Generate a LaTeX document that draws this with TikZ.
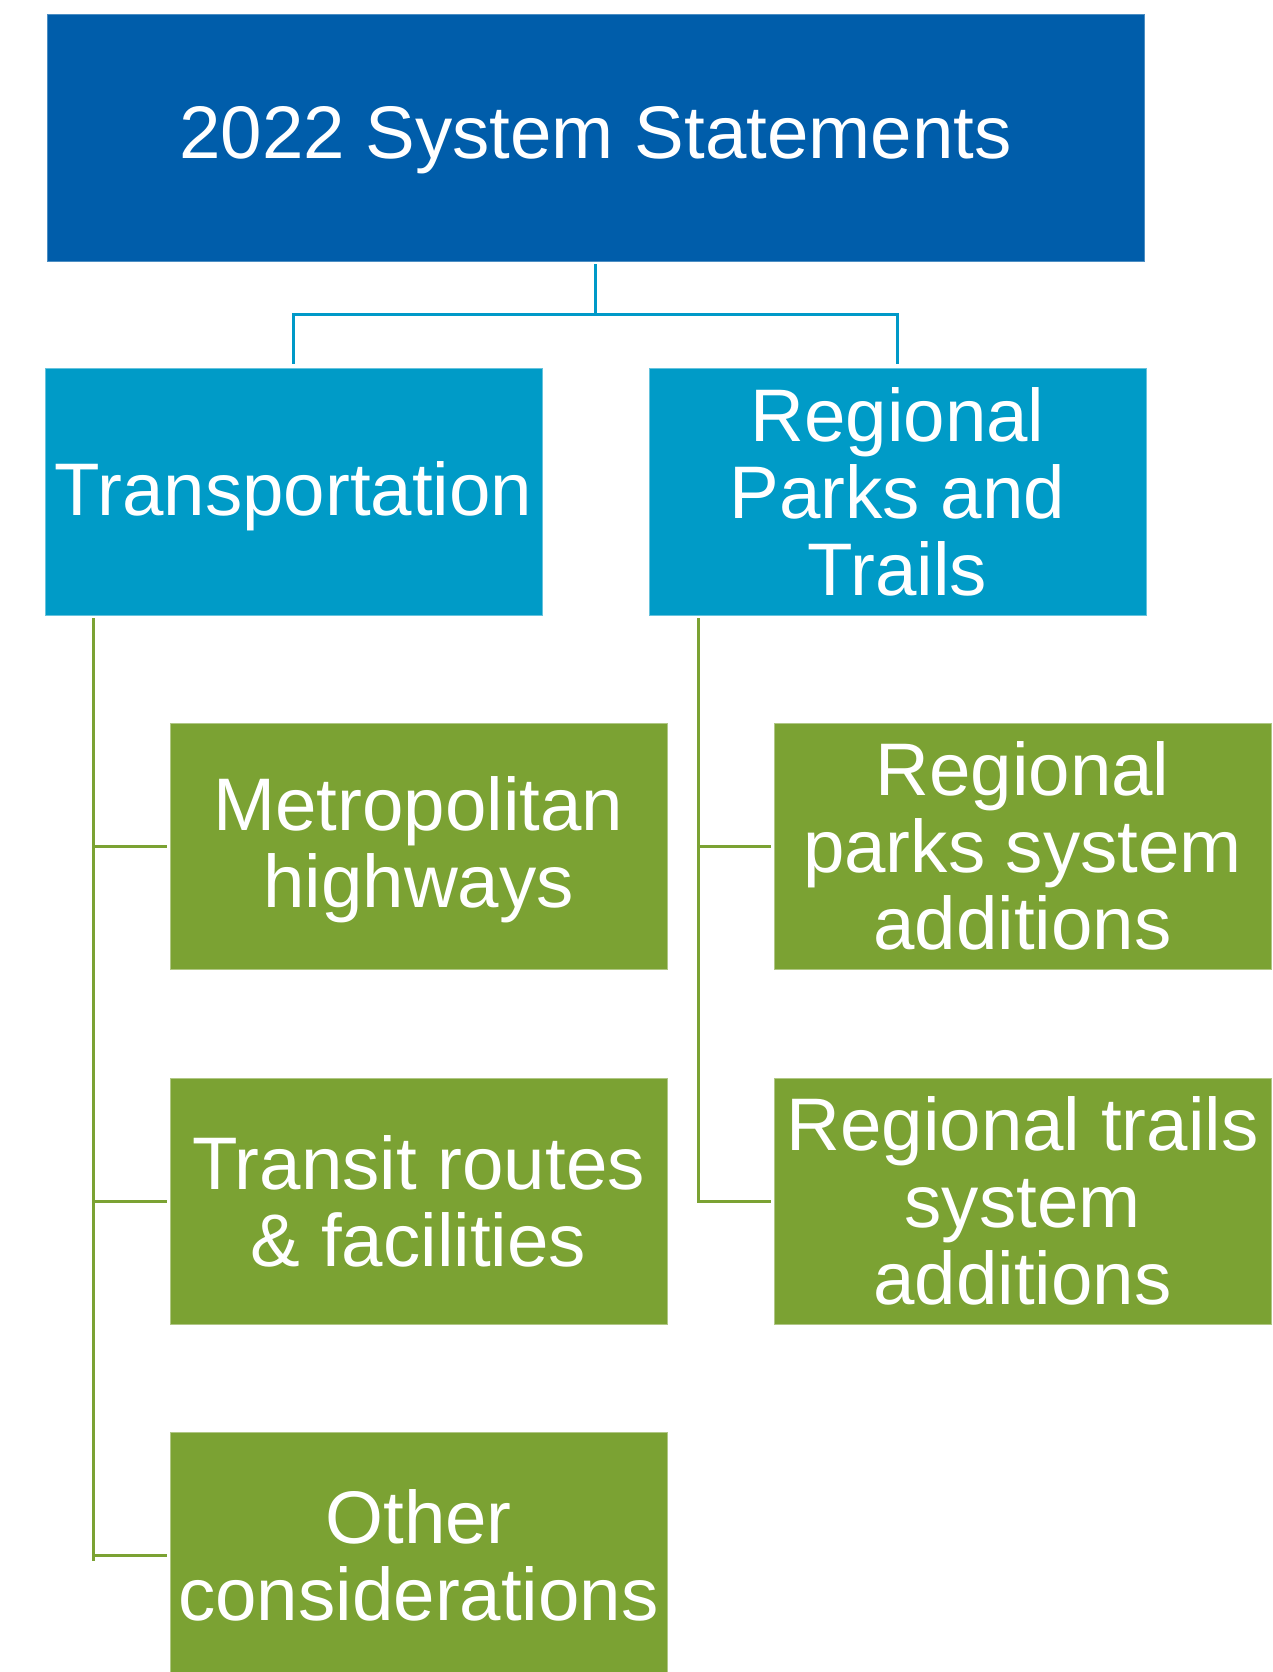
\documentclass[tikz,border=0pt]{standalone}
\usepackage{fontspec}
\setmainfont{Liberation Sans}
\definecolor{topblue}{HTML}{005DAA}
\definecolor{midblue}{HTML}{009BC7}
\definecolor{leafgreen}{HTML}{7BA233}
\definecolor{conblue}{HTML}{0099C8}
\tikzset{
  box/.style={rectangle, inner sep=0pt, align=center, text=white,
    font=\fontsize{74.5}{77}\selectfont, line width=0.8pt},
  topbox/.style={box, fill=topblue, draw=topblue!70!white, minimum width=1097pt, minimum height=247pt},
  midbox/.style={box, fill=midblue, draw=midblue!60!white, minimum width=497pt, minimum height=247pt},
  leafbox/.style={box, fill=leafgreen, draw=leafgreen!60!white, minimum width=497pt, minimum height=246pt},
  bluecon/.style={draw=conblue, line width=3pt},
  greencon/.style={draw=leafgreen, line width=3pt},
}
\begin{document}
\begin{tikzpicture}[x=1pt,y=-1pt]
\useasboundingbox (0,0) rectangle (1272,1672);
\clip (0,0) rectangle (1272,1672);
\fill[white] (0,0) rectangle (1272,1672);

\node[topbox, text depth=10pt] (top) at (595.5,137.5) {2022 System Statements};
\node[midbox, text depth=5pt] (trans) at (293.5,491.5) {Transportation};
\node[midbox] (parks) at (897.5,491.5) {Regional\\Parks and\\Trails};

\node[leafbox, text depth=8pt] (metro) at (418.5,846) {Metropolitan\\highways};
\node[leafbox] (transit) at (418.5,1201) {Transit routes\\\& facilities};
\node[leafbox] (other) at (418.5,1555) {Other\\considerations};
\node[leafbox] (rparks) at (1022.5,846) {Regional\\parks system\\additions};
\node[leafbox] (rtrails) at (1022.5,1201) {Regional trails\\system\\additions};

% top-level connectors
\coordinate (hub) at (595.5,314);
\draw[bluecon, shorten <=3pt] (top.south) -- (hub);
\draw[bluecon, shorten >=4pt] (hub) -| (trans.north);
\draw[bluecon, shorten >=4pt] (hub) -| (parks.north);

% left branch
\coordinate (tl) at (93,618);
\coordinate (tb) at (93,1561);
\draw[greencon] (tl) -- (tb);
\draw[greencon, shorten >=3pt] (tl |- metro.west) -- (metro.west);
\draw[greencon, shorten >=3pt] (tl |- transit.west) -- (transit.west);
\draw[greencon, shorten >=3pt] (tl |- other.west) -- (other.west);

% right branch
\coordinate (pl) at (698,618);
\draw[greencon] (pl) -- (pl |- rtrails.west) -- ([xshift=-3pt]rtrails.west);
\draw[greencon, shorten >=3pt] (pl |- rparks.west) -- (rparks.west);
\end{tikzpicture}
\end{document}
